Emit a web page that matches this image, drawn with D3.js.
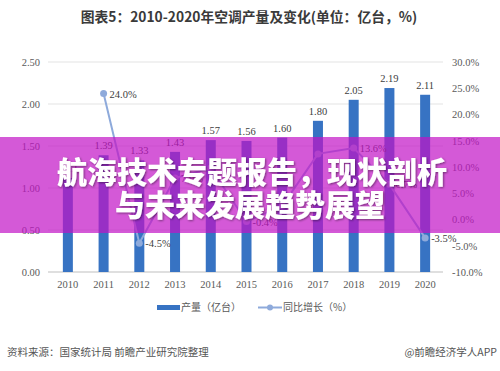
<!DOCTYPE html>
<html>
<head>
<meta charset="utf-8">
<script src="https://cdn.jsdelivr.net/npm/d3@7.9.0/dist/d3.min.js"></script>
<style>
  body { margin: 0; background: #fff; }
  svg { display: block; }
</style>
</head>
<body>
<svg id="chart" width="500" height="371"></svg>
<script>
// data
const years = ['2010', '2011', '2012', '2013', '2014', '2015', '2016', '2017', '2018', '2019', '2020'];
const output = [1.12, 1.39, 1.33, 1.43, 1.57, 1.56, 1.60, 1.80, 2.05, 2.19, 2.11];
const growth = [null, 24.0, -4.5, 7.9, 9.8, -0.4, 2.6, 12.5, 13.6, 6.7, -3.5];
const leftTicks = [0, 0.5, 1.0, 1.5, 2.0, 2.5];
const rightTicks = [-10, -5, 0, 5, 10, 15, 20, 25, 30];
const shownGrowth = ['2011', '2012', '2013', '2015', '2018', '2019', '2020'];

const svg = d3.select('#chart');
const serif = '"Liberation Serif", "DejaVu Serif", serif';
const sans = '"Noto Sans CJK SC", "Noto Sans", sans-serif';

const x = d3.scaleBand().domain(years).range([50, 443]).paddingInner(0.72).paddingOuter(0.36);
const yL = d3.scaleLinear().domain([0, 2.5]).range([272, 62]);
const yR = d3.scaleLinear().domain([-10, 30]).range([272, 62]);
const cx = d => x(d) + x.bandwidth() / 2;

// title
svg.append('text')
    .attr('x', 249).attr('y', 22)
    .attr('text-anchor', 'middle')
    .attr('font-family', sans).attr('font-weight', 'bold')
    .attr('font-size', 13.8).attr('fill', '#3a3a3a')
    .text('图表5：2010-2020年空调产量及变化(单位：亿台，%)');

// gridlines
svg.append('g').selectAll('line').data(leftTicks).join('line')
    .attr('x1', 48).attr('x2', 443)
    .attr('y1', d => yL(d)).attr('y2', d => yL(d))
    .attr('stroke', d => d === 0 ? '#bfbfbf' : '#e3e3e3').attr('stroke-width', 1);

// axes (only tick labels visible)
const gl = svg.append('g').attr('transform', 'translate(44,0)')
    .call(d3.axisLeft(yL).tickValues(leftTicks).tickFormat(d3.format('.2f')).tickSize(0));
const gr = svg.append('g').attr('transform', 'translate(449,0)')
    .call(d3.axisRight(yR).tickValues(rightTicks).tickFormat(d => d.toFixed(1) + '%').tickSize(0));
const gx = svg.append('g').attr('transform', 'translate(0,272)')
    .call(d3.axisBottom(x).tickSize(0).tickPadding(9));
[gl, gr, gx].forEach(g => {
    g.select('.domain').remove();
    g.selectAll('text').attr('font-family', serif).attr('font-size', 10.5).attr('fill', '#595959');
});
gl.selectAll('text').attr('dx', '-1');

// bars
svg.append('g').selectAll('rect').data(years).join('rect')
    .attr('x', d => x(d))
    .attr('y', (d, i) => yL(output[i]))
    .attr('width', x.bandwidth())
    .attr('height', (d, i) => yL(0) - yL(output[i]))
    .attr('fill', '#3773c3');

svg.append('g').selectAll('text').data(years).join('text')
    .attr('x', d => cx(d))
    .attr('y', (d, i) => yL(output[i]) - 6)
    .attr('text-anchor', 'middle')
    .attr('font-family', serif).attr('font-size', 10.5).attr('fill', '#404040')
    .text((d, i) => output[i].toFixed(2));

// growth line
const pts = years.map((d, i) => ({ year: d, v: growth[i] })).filter(p => p.v !== null);
svg.append('path').datum(pts)
    .attr('fill', 'none').attr('stroke', '#8eaadb').attr('stroke-width', 2)
    .attr('d', d3.line().x(p => cx(p.year)).y(p => yR(p.v)));
svg.append('g').selectAll('circle').data(pts).join('circle')
    .attr('cx', p => cx(p.year)).attr('cy', p => yR(p.v)).attr('r', 3.5)
    .attr('fill', '#8eaadb');
svg.append('g').selectAll('text').data(pts.filter(p => shownGrowth.includes(p.year))).join('text')
    .attr('x', p => cx(p.year) + 6)
    .attr('y', p => yR(p.v) + 4)
    .attr('font-family', serif).attr('font-size', 10.5).attr('fill', '#404040')
    .text(p => p.v.toFixed(1) + '%');

// legend
const lg = svg.append('g').attr('font-family', sans).attr('font-size', 10).attr('fill', '#595959');
lg.append('rect').attr('x', 157).attr('y', 305).attr('width', 23).attr('height', 5).attr('fill', '#3773c3');
lg.append('text').attr('x', 181).attr('y', 311).text('产量（亿台）');
lg.append('line').attr('x1', 258).attr('x2', 282).attr('y1', 307.5).attr('y2', 307.5)
    .attr('stroke', '#8eaadb').attr('stroke-width', 2);
lg.append('circle').attr('cx', 270).attr('cy', 307.5).attr('r', 3).attr('fill', '#8eaadb');
lg.append('text').attr('x', 283).attr('y', 311).text('同比增长（%）');

// footer
svg.append('text').attr('x', 7).attr('y', 356)
    .attr('font-family', sans).attr('font-size', 10.5).attr('fill', '#555')
    .text('资料来源：国家统计局 前瞻产业研究院整理');
svg.append('text').attr('x', 497).attr('y', 356).attr('text-anchor', 'end')
    .attr('font-family', sans).attr('font-size', 10.5).attr('fill', '#555')
    .text('@前瞻经济学人APP');

// overlay banner
svg.append('rect').attr('x', 0).attr('y', 137).attr('width', 500).attr('height', 96)
    .attr('fill', 'rgb(194,19,198)').attr('opacity', 0.7);
const defs = svg.append('defs');
const f = defs.append('filter').attr('id', 'sh').attr('x', '-10%').attr('y', '-30%').attr('width', '120%').attr('height', '160%');
f.append('feDropShadow').attr('dx', 1).attr('dy', 1).attr('stdDeviation', 1.2)
    .attr('flood-color', '#000').attr('flood-opacity', 0.45);
const bt = svg.append('g').attr('font-family', sans).attr('font-weight', 900)
    .attr('font-size', 30).attr('fill', '#fff').attr('text-anchor', 'middle').attr('filter', 'url(#sh)');
bt.append('text').attr('x', 252).attr('y', 183).text('航海技术专题报告，现状剖析');
bt.append('text').attr('x', 250).attr('y', 216).text('与未来发展趋势展望');
</script>
</body>
</html>
